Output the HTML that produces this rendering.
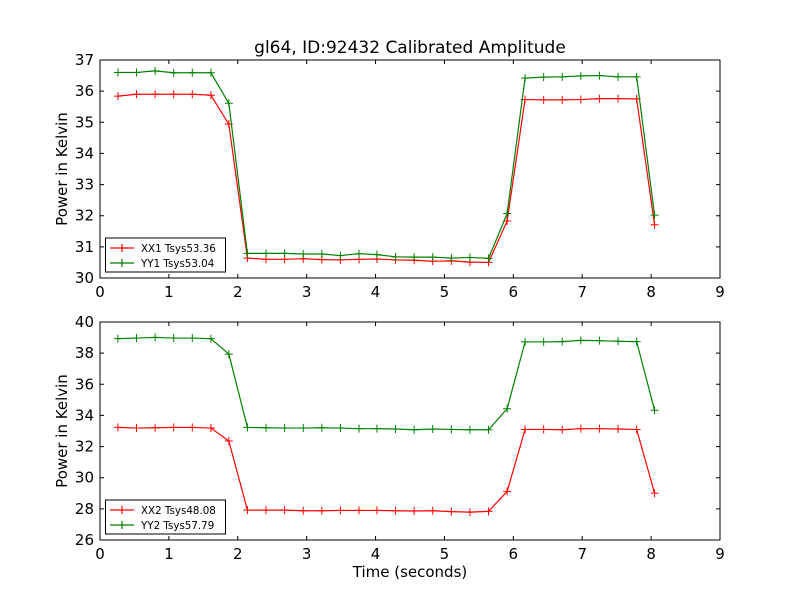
<!DOCTYPE html>
<html><head><meta charset="utf-8"><style>body{margin:0;background:#fff}svg{display:block;font-family:"DejaVu Sans","Liberation Sans",sans-serif}</style></head>
<body>
<svg id="chart" width="800" height="600" xmlns="http://www.w3.org/2000/svg">
<rect width="800" height="600" fill="#fff"/>
<text x="410" y="53" font-size="17" text-anchor="middle">gl64, ID:92432 Calibrated Amplitude</text>
<g id="top"></g><g id="bot"></g>
<text x="410" y="577" font-size="15" text-anchor="middle">Time (seconds)</text>
</svg>
<script>
const times=[0.26,0.53,0.80,1.07,1.34,1.61,1.87,2.14,2.41,2.68,2.95,3.22,3.49,3.76,4.02,4.29,4.56,4.83,5.10,5.37,5.64,5.91,6.17,6.44,6.71,6.98,7.25,7.52,7.79,8.05];
const xx1=[35.84,35.90,35.90,35.90,35.90,35.87,34.94,30.64,30.60,30.60,30.62,30.59,30.58,30.60,30.61,30.58,30.57,30.54,30.55,30.51,30.50,31.83,35.73,35.72,35.72,35.73,35.76,35.76,35.75,31.71];
const yy1=[36.60,36.60,36.65,36.59,36.59,36.59,35.61,30.79,30.79,30.79,30.77,30.77,30.72,30.78,30.75,30.68,30.67,30.67,30.64,30.66,30.63,32.07,36.42,36.45,36.46,36.49,36.50,36.46,36.46,32.02];
const xx2=[33.23,33.19,33.21,33.23,33.23,33.19,32.36,27.92,27.92,27.92,27.88,27.88,27.90,27.90,27.90,27.88,27.86,27.88,27.82,27.79,27.84,29.12,33.10,33.10,33.08,33.15,33.15,33.13,33.10,29.01];
const yy2=[38.93,38.97,39.01,38.97,38.97,38.93,37.94,33.23,33.21,33.19,33.19,33.21,33.19,33.15,33.15,33.13,33.08,33.13,33.10,33.08,33.08,34.43,38.72,38.72,38.74,38.82,38.80,38.76,38.74,34.33];
const xTicks=[0,1,2,3,4,5,6,7,8,9];
const yTicksTop=[30,31,32,33,34,35,36,37];
const yTicksBot=[26,28,30,32,34,36,38,40];
const NS="http://www.w3.org/2000/svg";
function mk(p,t,a){const e=document.createElementNS(NS,t);for(const k in a)e.setAttribute(k,a[k]);p.appendChild(e);return e;}
function panel(gid,top,ymin,ymax,yTicks,series,labels,pfx){
 const g=document.getElementById(gid);const L=100,R=720,T=top,B=top+218;
 const sx=v=>L+(v-0)/9*(R-L), sy=v=>B-(v-ymin)/(ymax-ymin)*(B-T);
 series.forEach((s,si)=>{
  const col=si==0?'#ff0000':'#008000';
  const pl=mk(g,'polyline',{points:times.map((t,i)=>sx(t)+','+sy(s[i])).join(' '),fill:'none',stroke:col,'stroke-width':1.2});
  
  
  times.forEach((t,i)=>{const x=sx(t),y=sy(s[i]);
   const m=mk(g,'path',{d:`M${x-4},${y}H${x+4}M${x},${y-4}V${y+4}`,stroke:col,'stroke-width':1});
   
   });
 });
 const fr=mk(g,'rect',{x:L,y:T,width:R-L,height:B-T,fill:'none',stroke:'#000','stroke-width':1});
 
 
 xTicks.forEach(v=>{const x=sx(v);mk(g,'path',{d:`M${x},${B}V${B-4}M${x},${T}V${T+4}`,stroke:'#000'});
  const tx=mk(g,'text',{x:x,y:B+19,'font-size':15,'text-anchor':'middle'});tx.textContent=v;
  
  });
 yTicks.forEach(v=>{const y=sy(v);mk(g,'path',{d:`M${L},${y}H${L+4}M${R},${y}H${R-4}`,stroke:'#000'});
  const tx=mk(g,'text',{x:L-6,y:y+5,'font-size':15,'text-anchor':'end'});tx.textContent=v;
  
  });
 const yl=mk(g,'text',{x:67,y:(T+B)/2,'font-size':15,'text-anchor':'middle',transform:`rotate(-90 67 ${(T+B)/2})`});
 yl.textContent='Power in Kelvin';
 
 
 const lg=mk(g,'g',{});
 
 
 mk(lg,'rect',{x:105.5,y:B-40,width:120,height:34,fill:'#fff',stroke:'#000','stroke-width':1});
 labels.forEach((lab,i)=>{const col=i==0?'#ff0000':'#008000';const y=B-30+i*15;
  mk(lg,'path',{d:`M110,${y}H134M122,${y-4}V${y+4}`,stroke:col,'stroke-width':1.2});
  const t=mk(lg,'text',{x:141,y:y+4,'font-size':10.3});t.textContent=lab;
  
  });
}
panel('top',60,30,37,yTicksTop,[xx1,yy1],['XX1 Tsys53.36','YY1 Tsys53.04'],'top');
panel('bot',322,26,40,yTicksBot,[xx2,yy2],['XX2 Tsys48.08','YY2 Tsys57.79'],'bottom');
</script>
</body></html>
